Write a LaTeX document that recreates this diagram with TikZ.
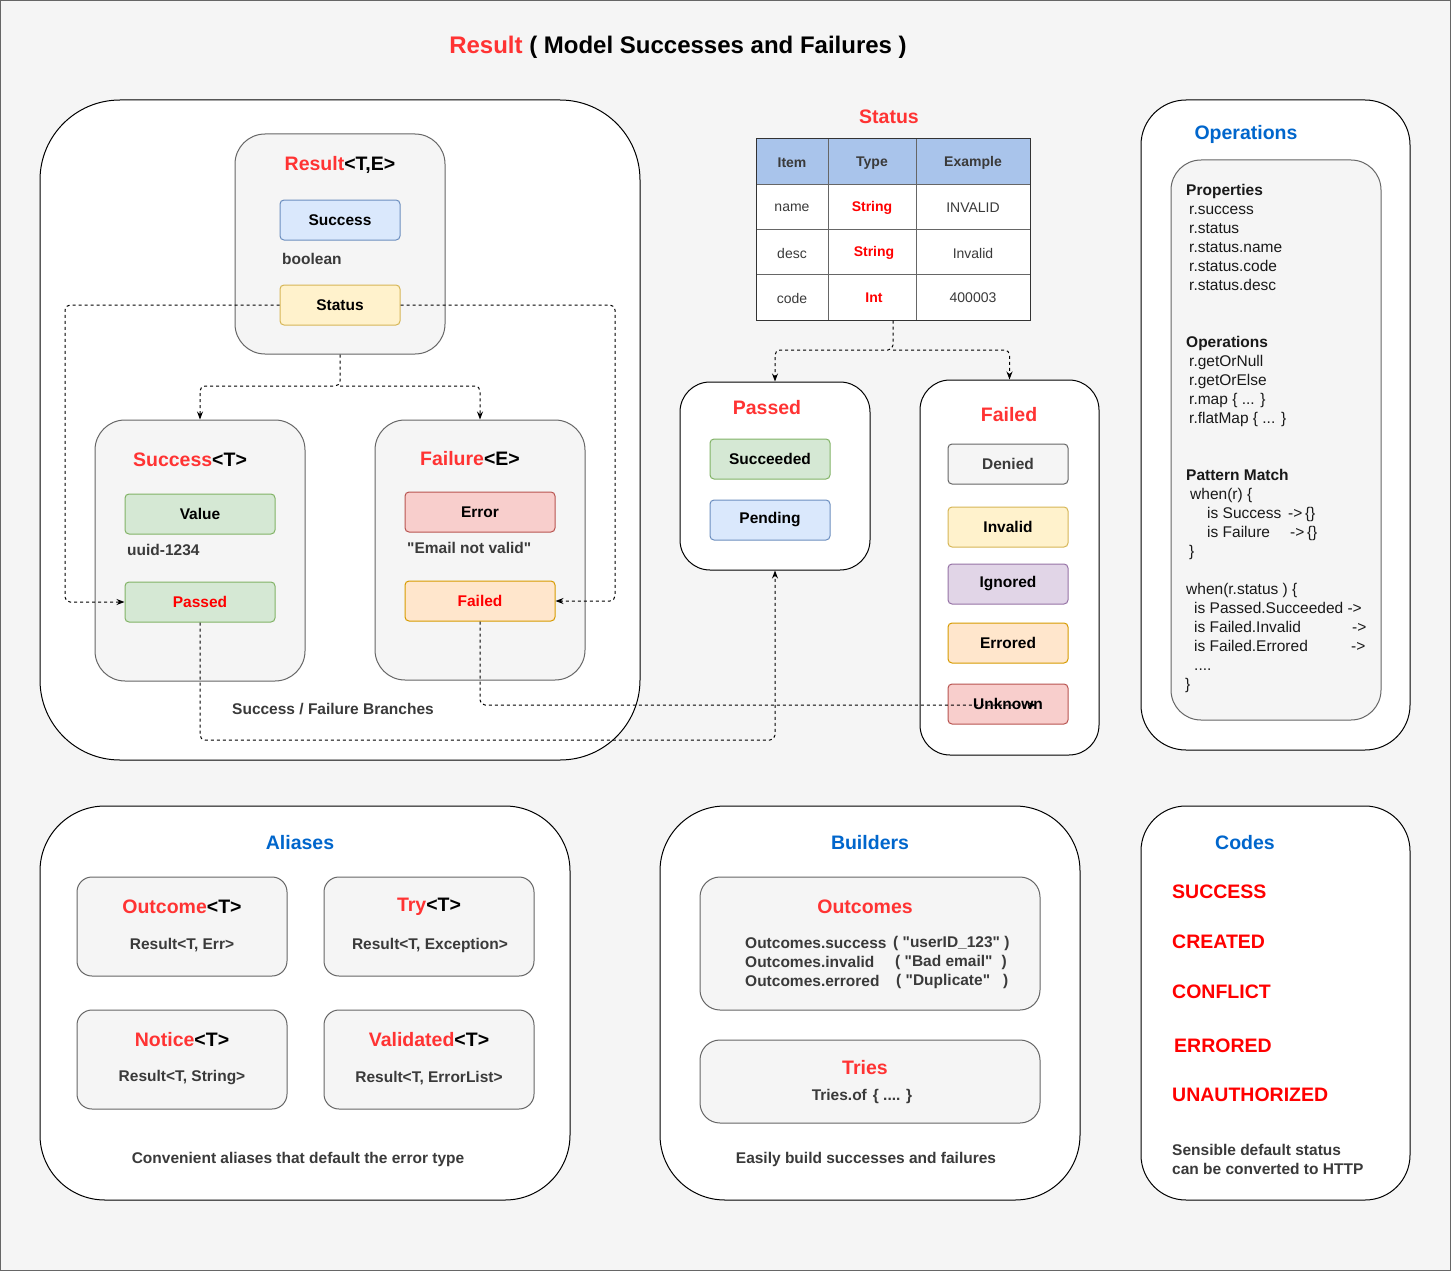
\documentclass[tikz,border=0pt]{standalone}
\usepackage{fontspec}
\setmainfont{Liberation Sans}[Ligatures=TeXOff]
\usetikzlibrary{arrows.meta}
\definecolor{bgc}{HTML}{F5F5F5}
\definecolor{tred}{HTML}{FF3333}
\definecolor{pred}{HTML}{FF0000}
\definecolor{tblue}{HTML}{0066CC}
\definecolor{tgray}{HTML}{3A3A3A}
\definecolor{grpfill}{HTML}{F5F5F5}
\definecolor{grpdraw}{HTML}{666666}
\definecolor{bluef}{HTML}{DAE8FC}\definecolor{blued}{HTML}{6C8EBF}
\definecolor{yelf}{HTML}{FFF2CC}\definecolor{yeld}{HTML}{D6B656}
\definecolor{grnf}{HTML}{D5E8D4}\definecolor{grnd}{HTML}{82B366}
\definecolor{redf}{HTML}{F8CECC}\definecolor{redd}{HTML}{B85450}
\definecolor{orgf}{HTML}{FFE6CC}\definecolor{orgd}{HTML}{D79B00}
\definecolor{purf}{HTML}{E1D5E7}\definecolor{purd}{HTML}{9673A6}
\definecolor{hdrf}{HTML}{A9C4EB}
\newcommand\FBig{\fontsize{24}{28}\selectfont}
\newcommand\FTitle{\fontsize{19.5}{23}\selectfont}
\newcommand\FNorm{\fontsize{15.5}{19}\selectfont}
\newcommand\FTab{\fontsize{14}{17}\selectfont}
\newcommand\QQ{"}
\begin{document}
\begin{tikzpicture}[x=1pt,y=-1pt,
  outerbox/.style={draw=black, line width=1pt, fill=white, inner sep=0pt},
  grpbox/.style={draw=grpdraw, line width=1pt, fill=grpfill, inner sep=0pt},
  itembox/.style={line width=1pt, rounded corners=4pt, minimum width=120pt, minimum height=40pt, inner sep=0pt, font=\FNorm\bfseries},
  widebox/.style={itembox, minimum width=150pt},
  ttl/.style={font=\FTitle\bfseries, inner sep=0pt, yshift=-1.5pt},
  sub/.style={font=\FNorm\bfseries, text=tgray, inner sep=0pt},
  ops/.style={font=\FNorm, text=black!90, inner sep=0pt, anchor=base west},
  opsh/.style={ops, font=\FNorm\bfseries},
  code/.style={font=\FTitle\bfseries, text=pred, inner sep=0pt, anchor=base west},
  tab/.style={font=\FTab, text=tgray, inner sep=0pt, yshift=-1pt},
  conn/.style={draw=black, line width=1pt, dash pattern=on 3pt off 3pt, rounded corners=5pt, -{Stealth[length=8pt,width=6pt]}}
]
\useasboundingbox (0,0) rectangle (1451,1271);
\fill[bgc] (0,0) rectangle (1451,1271);
\draw[grpdraw, line width=1pt] (0.5,0.5) rectangle (1450.5,1270.5);

% title
\node[font=\FBig\bfseries, inner sep=0pt, yshift=-1.5pt] (title) at (678,46) {\textcolor{tred}{Result} ( Model Successes and Failures )};

% ===== Branches group
\node[outerbox, rounded corners=80pt, minimum width=600pt, minimum height=660pt] (branches) at (340,430) {};
\node[grpbox, rounded corners=30pt, minimum width=210pt, minimum height=220pt] (resbox) at (340,244) {};
\node[ttl] (restitle) at (340,163) {\textcolor{tred}{Result}<T,E>};
\node[itembox, draw=blued, fill=bluef] (success) at (340,220) {Success};
\node[sub, anchor=west] (boolean) at (282,259) {boolean};
\node[itembox, draw=yeld, fill=yelf] (status) at (340,305) {Status};

\node[grpbox, rounded corners=30pt, minimum width=210pt, minimum height=261pt] (succT) at (200,550.5) {};
\node[ttl] (succTtitle) at (190,458) {\textcolor{tred}{Success}<T>};
\node[widebox, draw=grnd, fill=grnf] (value) at (200,514) {Value};
\node[sub, anchor=west] (uuid) at (127,550) {uuid-1234};
\node[widebox, draw=grnd, fill=grnf, text=pred] (passed) at (200,602) {Passed};

\node[grpbox, rounded corners=30pt, minimum width=210pt, minimum height=260pt] (failE) at (480,550) {};
\node[ttl] (failEtitle) at (470,457) {\textcolor{tred}{Failure}<E>};
\node[widebox, draw=redd, fill=redf] (error) at (480,512) {Error};
\node[sub, anchor=west] (email) at (407,548) {\QQ Email not valid\QQ};
\node[widebox, draw=orgd, fill=orgf, text=pred] (failed) at (480,601) {Failed};

\node[sub] (branchcap) at (333,709) {Success / Failure Branches};

% ===== Status table
\node[ttl, text=tred] (statustitle) at (889,115) {Status};
\fill[hdrf] (756,139) rectangle (1030,184);
\fill[white] (756,184) rectangle (1030,320);
\draw[grpdraw, line width=1pt] (756,184) -- (1030,184) (756,229) -- (1030,229) (756,274.5) -- (1030,274.5)
  (828,139) -- (828,320) (916,139) -- (916,320);
\node[draw=black!80, line width=1pt, minimum width=274pt, minimum height=181pt, inner sep=0pt] (tbl) at (893,229.5) {};
\node[tab, font=\FTab\bfseries] (h1) at (792,162) {Item};
\node[tab, font=\FTab\bfseries] (h2) at (872,162) {Type};
\node[tab, font=\FTab\bfseries] (h3) at (973,162) {Example};
\node[tab] (r1a) at (792,207) {name};
\node[tab, text=pred, font=\FTab\bfseries] (r1b) at (872,207) {String};
\node[tab] (r1c) at (973,207) {INVALID};
\node[tab] (r2a) at (792,252) {desc};
\node[tab, text=pred, font=\FTab\bfseries] (r2b) at (874,252) {String};
\node[tab] (r2c) at (973,252) {Invalid};
\node[tab] (r3a) at (792,297) {code};
\node[tab, text=pred, font=\FTab\bfseries] (r3b) at (874,297) {Int};
\node[tab] (r3c) at (973,297) {400003};

% ===== Passed group
\node[outerbox, rounded corners=30pt, minimum width=190pt, minimum height=188pt] (passedgrp) at (775,476) {};
\node[ttl, text=tred] (passedtitle) at (767,406) {Passed};
\node[itembox, draw=grnd, fill=grnf] (succeeded) at (770,459) {Succeeded};
\node[itembox, draw=blued, fill=bluef] (pending) at (770,520) {Pending};

% ===== Failed group
\node[outerbox, rounded corners=30pt, minimum width=179pt, minimum height=375pt] (failedgrp) at (1009.5,567.5) {};
\node[ttl, text=tred] (failedtitle) at (1009,413) {Failed};
\node[itembox, draw=grpdraw, fill=grpfill, text=tgray] (denied) at (1008,464) {Denied};
\node[itembox, draw=yeld, fill=yelf] (invalid) at (1008,527) {Invalid};
\node[itembox, draw=purd, fill=purf] (ignored) at (1008,584) {Ignored};
\node[itembox, draw=orgd, fill=orgf] (errored) at (1008,643) {Errored};
\node[itembox, draw=redd, fill=redf] (unknown) at (1008,704) {Unknown};

% ===== Connectors
\coordinate (split1) at (340,386);
\draw[conn] (resbox.south) -- (split1) -| (succT.north);
\draw[conn] (split1) -| (failE.north);
\coordinate (cl) at (65,305);
\draw[conn] (status.west) -- (cl) |- (passed.west);
\coordinate (cr) at (615,305);
\draw[conn] (status.east) -- (cr) |- (failed.east);
\coordinate (lowR) at (775,740);
\draw[conn] (passed.south) |- (lowR) -- (passedgrp.south);
\coordinate (unkEnd) at (1036,705);
\draw[conn] (failed.south) |- (unkEnd);
\coordinate (tsplit) at (893,350);
\draw[conn] (tbl.south) -- (tsplit) -| (passedgrp.north);
\draw[conn] (tsplit) -| (failedgrp.north);

% ===== Operations
\node[outerbox, rounded corners=45pt, minimum width=269pt, minimum height=650pt] (opsgrp) at (1275.5,425) {};
\node[ttl, text=tblue] (opstitle) at (1246,133) {Operations};
\node[grpbox, rounded corners=30pt, minimum width=210pt, minimum height=560pt] (opsinner) at (1276,440) {};
\node[opsh] (o1) at (1186,195.5) {Properties};
\node[ops] (o2) at (1189,214.5) {r.success};
\node[ops] (o3) at (1189,233.5) {r.status};
\node[ops] (o4) at (1189,252.5) {r.status.name};
\node[ops] (o5) at (1189,271.5) {r.status.code};
\node[ops] (o6) at (1189,290.5) {r.status.desc};
\node[opsh] (o7) at (1186,347.5) {Operations};
\node[ops] (o8) at (1189,366.5) {r.getOrNull};
\node[ops] (o9) at (1189,385.5) {r.getOrElse};
\node[ops] (o10) at (1189,404.5) {r.map \{ ... \}};
\node[ops] (o11) at (1189,423.5) {r.flatMap \{ ... \}};
\node[opsh] (o12) at (1186,480.5) {Pattern Match};
\node[ops] (o13) at (1190,499.5) {when(r) \{};
\node[ops] (o14) at (1207,518.5) {is Success};
\node[ops] (o14b) at (1288,518.5) {->\,\{\}};
\node[ops] (o15) at (1207,537.5) {is Failure};
\node[ops] (o15b) at (1290,537.5) {->\,\{\}};
\node[ops] (o16) at (1189,556.5) {\}};
\node[ops] (o17) at (1186,594.5) {when(r.status ) \{};
\node[ops] (o18) at (1194,613.5) {is Passed.Succeeded ->};
\node[ops] (o19) at (1194,632.5) {is Failed.Invalid};
\node[ops] (o19b) at (1352,632.5) {->};
\node[ops] (o20) at (1194,651.5) {is Failed.Errored};
\node[ops] (o20b) at (1351,651.5) {->};
\node[ops] (o21) at (1194,670.5) {....};
\node[ops] (o22) at (1185,689.5) {\}};

% ===== Aliases
\node[outerbox, rounded corners=65pt, minimum width=530pt, minimum height=394pt] (aliases) at (305,1003) {};
\node[ttl, text=tblue] (aliastitle) at (300,841) {Aliases};
\node[grpbox, rounded corners=15pt, minimum width=210pt, minimum height=99pt] (outcomeb) at (182,926.5) {};
\node[grpbox, rounded corners=15pt, minimum width=210pt, minimum height=99pt] (tryb) at (429,926.5) {};
\node[grpbox, rounded corners=15pt, minimum width=210pt, minimum height=99pt] (noticeb) at (182,1059.5) {};
\node[grpbox, rounded corners=15pt, minimum width=210pt, minimum height=99pt] (validb) at (429,1059.5) {};
\node[ttl] (outcomet) at (182,905) {\textcolor{tred}{Outcome}<T>};
\node[ttl] (tryt) at (429,905) {\textcolor{tred}{Try}<T>};
\node[ttl] (noticet) at (182,1038) {\textcolor{tred}{Notice}<T>};
\node[ttl] (validt) at (429,1038) {\textcolor{tred}{Validated}<T>};
\node[sub] (outcomes) at (182,945) {Result<T, Err>};
\node[sub] (trys) at (430,945) {Result<T, Exception>};
\node[sub] (notices) at (182,1078) {Result<T, String>};
\node[sub] (valids) at (429,1078) {Result<T, ErrorList>};
\node[sub] (aliascap) at (298,1159) {Convenient aliases that default the error type};

% ===== Builders
\node[outerbox, rounded corners=65pt, minimum width=420pt, minimum height=394pt] (builders) at (870,1003) {};
\node[ttl, text=tblue] (buildtitle) at (870,841) {Builders};
\node[grpbox, rounded corners=20pt, minimum width=340pt, minimum height=133pt] (outcomesb) at (870,943.5) {};
\node[ttl, text=tred] (outcomest) at (865,905) {Outcomes};
\node[sub, anchor=west] (b1) at (745,943) {Outcomes.success};
\node[sub, anchor=west] (b1b) at (893,943) {( \QQ userID\_123\QQ\ )};
\node[sub, anchor=west] (b2) at (745,962) {Outcomes.invalid};
\node[sub, anchor=west] (b2b) at (895,962) {( \QQ Bad email\QQ\hspace{9pt})};
\node[sub, anchor=west] (b3) at (745,981) {Outcomes.errored};
\node[sub, anchor=west] (b3b) at (896,981) {( \QQ Duplicate\QQ\hspace{13pt})};
\node[grpbox, rounded corners=20pt, minimum width=340pt, minimum height=83pt] (triesb) at (870,1081.5) {};
\node[ttl, text=tred] (triest) at (865,1066) {Tries};
\node[sub] (triess) at (862,1096) {Tries.of\hspace{6pt}\{ .... \}};
\node[sub] (buildcap) at (866,1159) {Easily build successes and failures};

% ===== Codes
\node[outerbox, rounded corners=45pt, minimum width=269pt, minimum height=394pt] (codes) at (1275.5,1003) {};
\node[ttl, text=tblue] (codestitle) at (1245,841) {Codes};
\node[code] (c1) at (1172,898) {SUCCESS};
\node[code] (c2) at (1172,948) {CREATED};
\node[code] (c3) at (1172,998) {CONFLICT};
\node[code] (c4) at (1174,1052) {ERRORED};
\node[code] (c5) at (1172,1101) {UNAUTHORIZED};
\node[sub, anchor=base west] (cc1) at (1172,1155.5) {Sensible default status};
\node[sub, anchor=base west] (cc2) at (1172,1174.5) {can be converted to HTTP};
\end{tikzpicture}
\end{document}
